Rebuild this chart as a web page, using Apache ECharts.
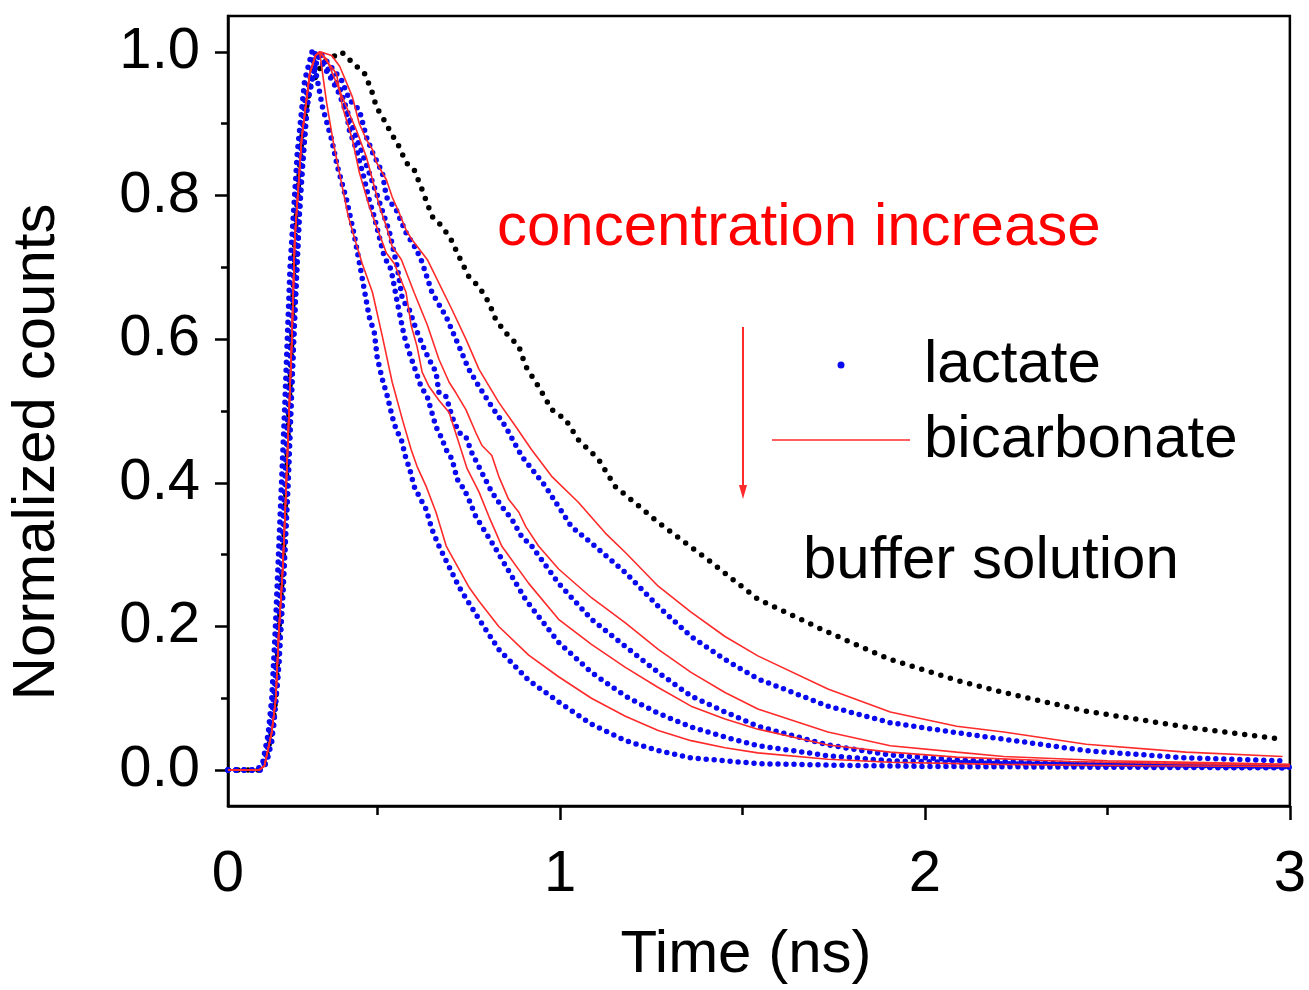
<!DOCTYPE html>
<html><head><meta charset="utf-8">
<script src="https://cdn.jsdelivr.net/npm/echarts@6/dist/echarts.min.js"></script>
<style>html,body{margin:0;padding:0;background:#fff}#c{width:1309px;height:990px}</style>
</head><body><div id="c"></div>
<script>
// ---- axis ticks / labels ----
const xMin = 0.09, xMax = 3.0;
const yMin = -0.05, yMax = 1.05;
const xLabelValues = [0.09, 1, 2, 3];
const xLabelTexts = ['0', '1', '2', '3'];
const xTicksMajor = [1, 2, 3];
const xTicksMinor = [0.5, 1.5, 2.5];
const yLabelValues = [0, 0.2, 0.4, 0.6, 0.8, 1.0];
const yTicksMinor = [0.1, 0.3, 0.5, 0.7, 0.9];

// ---- data: [time (ns), normalized counts] ----
const buffer = [[0.09,0],[0.175,0],[0.19,0.006],[0.21,0.053],[0.221,0.1],[0.229,0.19],[0.24,0.28],[0.248,0.377],[0.265,0.6],[0.273,0.74],[0.292,0.88],[0.314,0.95],[0.35,0.985],[0.401,1.0],[0.442,0.98],[0.464,0.97],[0.483,0.947],[0.497,0.923],[0.518,0.905],[0.537,0.887],[0.559,0.868],[0.578,0.846],[0.6,0.836],[0.622,0.808],[0.649,0.771],[0.677,0.757],[0.701,0.739],[0.723,0.715],[0.75,0.687],[0.778,0.673],[0.805,0.651],[0.824,0.627],[0.851,0.609],[0.887,0.59],[0.906,0.562],[0.941,0.534],[0.977,0.502],[1.015,0.488],[1.05,0.46],[1.105,0.433],[1.151,0.395],[1.269,0.345],[1.405,0.293],[1.542,0.238],[1.734,0.192],[1.905,0.154],[2.087,0.125],[2.216,0.108],[2.442,0.082],[2.715,0.06],[2.98,0.043]];

const lactate1 = [[0.09,0],[0.17,0],[0.185,0.01],[0.2,0.05],[0.21,0.1],[0.22,0.2],[0.23,0.32],[0.245,0.5],[0.26,0.7],[0.28,0.86],[0.3,0.96],[0.32,1.0],[0.349,0.923],[0.374,0.878],[0.39,0.84],[0.415,0.794],[0.436,0.745],[0.456,0.69],[0.477,0.631],[0.491,0.609],[0.499,0.574],[0.513,0.544],[0.527,0.52],[0.54,0.492],[0.551,0.474],[0.565,0.46],[0.578,0.433],[0.587,0.421],[0.6,0.395],[0.614,0.381],[0.633,0.363],[0.649,0.335],[0.668,0.312],[0.723,0.255],[0.778,0.21],[0.832,0.168],[0.914,0.125],[0.996,0.095],[1.086,0.064],[1.179,0.041],[1.269,0.027],[1.359,0.017],[1.542,0.009],[1.734,0.007],[2.0,0.005],[2.5,0.004],[3.0,0.003]];
const lactate2 = [[0.09,0],[0.175,0],[0.19,0.01],[0.205,0.05],[0.22,0.13],[0.235,0.27],[0.25,0.45],[0.265,0.63],[0.28,0.8],[0.3,0.93],[0.33,1.0],[0.39,0.947],[0.415,0.915],[0.423,0.89],[0.442,0.864],[0.464,0.822],[0.477,0.794],[0.491,0.77],[0.518,0.715],[0.537,0.697],[0.554,0.651],[0.573,0.604],[0.587,0.581],[0.6,0.562],[0.619,0.534],[0.636,0.52],[0.66,0.478],[0.674,0.464],[0.688,0.446],[0.704,0.433],[0.718,0.405],[0.737,0.391],[0.75,0.377],[0.769,0.353],[0.786,0.339],[0.819,0.312],[0.906,0.237],[0.996,0.178],[1.086,0.136],[1.179,0.103],[1.269,0.079],[1.359,0.06],[1.452,0.046],[1.542,0.034],[1.734,0.02],[1.905,0.013],[2.2,0.009],[2.6,0.006],[3.0,0.004]];
const lactate3 = [[0.09,0],[0.18,0],[0.195,0.01],[0.21,0.04],[0.225,0.12],[0.24,0.24],[0.255,0.4],[0.27,0.6],[0.285,0.77],[0.305,0.92],[0.335,1.0],[0.396,0.95],[0.428,0.9],[0.464,0.85],[0.499,0.8],[0.532,0.75],[0.554,0.70],[0.568,0.655],[0.587,0.641],[0.606,0.613],[0.628,0.586],[0.641,0.572],[0.66,0.554],[0.668,0.526],[0.688,0.52],[0.704,0.492],[0.723,0.47],[0.742,0.464],[0.758,0.442],[0.786,0.414],[0.813,0.387],[0.84,0.367],[0.868,0.349],[0.895,0.325],[0.922,0.312],[0.996,0.26],[1.086,0.21],[1.179,0.172],[1.269,0.136],[1.359,0.103],[1.452,0.081],[1.542,0.061],[1.734,0.035],[1.905,0.021],[2.087,0.014],[2.4,0.009],[2.7,0.007],[3.0,0.005]];
const lactate4 = [[0.09,0],[0.18,0],[0.2,0.02],[0.215,0.06],[0.23,0.15],[0.245,0.3],[0.26,0.48],[0.275,0.66],[0.29,0.82],[0.31,0.94],[0.34,1.0],[0.401,0.961],[0.423,0.933],[0.45,0.919],[0.469,0.882],[0.486,0.86],[0.513,0.832],[0.524,0.798],[0.551,0.78],[0.578,0.748],[0.606,0.725],[0.622,0.707],[0.649,0.665],[0.688,0.631],[0.723,0.59],[0.75,0.558],[0.778,0.534],[0.813,0.506],[0.851,0.478],[0.895,0.437],[0.96,0.395],[1.031,0.339],[1.086,0.316],[1.179,0.275],[1.269,0.228],[1.359,0.186],[1.452,0.154],[1.542,0.127],[1.734,0.089],[1.905,0.066],[2.087,0.052],[2.216,0.043],[2.442,0.027],[2.715,0.017],[2.98,0.013]];

const bicarbonate1 = [[0.09,0],[0.175,0],[0.19,0.006],[0.21,0.053],[0.221,0.1],[0.229,0.19],[0.24,0.28],[0.248,0.377],[0.265,0.6],[0.273,0.74],[0.292,0.88],[0.314,0.97],[0.33,0.995],[0.341,1.0],[0.36,0.93],[0.38,0.87],[0.40,0.82],[0.42,0.77],[0.44,0.735],[0.458,0.705],[0.486,0.665],[0.513,0.604],[0.54,0.54],[0.568,0.488],[0.592,0.446],[0.608,0.423],[0.633,0.395],[0.66,0.359],[0.688,0.312],[0.75,0.255],[0.778,0.235],[0.832,0.2],[0.914,0.16],[0.996,0.13],[1.086,0.1],[1.179,0.075],[1.269,0.055],[1.359,0.041],[1.452,0.031],[1.542,0.024],[1.734,0.015],[1.905,0.011],[2.2,0.008],[2.6,0.006],[3.0,0.005]];
const bicarbonate2 = [[0.09,0],[0.175,0],[0.19,0.006],[0.21,0.053],[0.221,0.1],[0.229,0.19],[0.24,0.28],[0.248,0.377],[0.265,0.6],[0.273,0.74],[0.292,0.88],[0.314,0.97],[0.33,0.995],[0.341,1.0],[0.387,0.97],[0.404,0.923],[0.431,0.878],[0.45,0.832],[0.477,0.785],[0.497,0.757],[0.524,0.72],[0.546,0.705],[0.578,0.665],[0.592,0.619],[0.608,0.59],[0.622,0.554],[0.641,0.534],[0.668,0.515],[0.696,0.498],[0.723,0.455],[0.745,0.42],[0.778,0.387],[0.805,0.353],[0.824,0.331],[0.84,0.312],[0.914,0.26],[0.996,0.21],[1.086,0.175],[1.179,0.143],[1.269,0.115],[1.359,0.089],[1.452,0.071],[1.542,0.057],[1.734,0.035],[1.905,0.025],[2.087,0.018],[2.4,0.012],[2.7,0.009],[3.0,0.007]];
const bicarbonate3 = [[0.09,0],[0.175,0],[0.19,0.006],[0.21,0.053],[0.221,0.1],[0.229,0.19],[0.24,0.28],[0.248,0.377],[0.265,0.6],[0.273,0.74],[0.292,0.88],[0.314,0.97],[0.33,0.995],[0.341,1.0],[0.36,0.99],[0.387,0.957],[0.415,0.923],[0.442,0.891],[0.469,0.854],[0.486,0.822],[0.505,0.785],[0.524,0.757],[0.54,0.729],[0.565,0.711],[0.6,0.665],[0.636,0.62],[0.668,0.572],[0.696,0.54],[0.715,0.525],[0.742,0.502],[0.769,0.47],[0.786,0.452],[0.813,0.438],[0.832,0.409],[0.859,0.377],[0.887,0.359],[0.906,0.339],[0.941,0.312],[0.996,0.28],[1.086,0.24],[1.179,0.205],[1.269,0.168],[1.359,0.136],[1.452,0.108],[1.542,0.085],[1.734,0.053],[1.905,0.034],[2.087,0.025],[2.216,0.019],[2.5,0.013],[2.8,0.01],[3.0,0.008]];
const bicarbonate4 = [[0.09,0],[0.175,0],[0.19,0.006],[0.21,0.053],[0.221,0.1],[0.229,0.19],[0.24,0.28],[0.248,0.377],[0.265,0.6],[0.273,0.74],[0.292,0.88],[0.314,0.97],[0.33,0.995],[0.345,1.0],[0.374,0.995],[0.396,0.98],[0.415,0.957],[0.431,0.937],[0.45,0.9],[0.469,0.878],[0.486,0.864],[0.497,0.846],[0.524,0.822],[0.54,0.798],[0.559,0.776],[0.578,0.752],[0.595,0.738],[0.636,0.711],[0.704,0.641],[0.742,0.6],[0.778,0.558],[0.832,0.512],[0.879,0.478],[0.922,0.446],[0.977,0.409],[1.05,0.373],[1.124,0.33],[1.179,0.303],[1.269,0.256],[1.359,0.22],[1.452,0.186],[1.542,0.159],[1.734,0.113],[1.905,0.081],[2.087,0.061],[2.216,0.053],[2.442,0.036],[2.715,0.025],[2.98,0.019]];

const lactateSets = [lactate1, lactate2, lactate3, lactate4];
const bicarbonateSets = [bicarbonate1, bicarbonate2, bicarbonate3, bicarbonate4];

const FONT = "'Liberation Sans', Arial, Helvetica, sans-serif";
const BLUE = '#0a0af0';
const RED = '#ff2a2a';

const chart = echarts.init(document.getElementById('c'), null, {renderer: 'canvas'});

function near(v, arr) {
  for (let i = 0; i < arr.length; i++) if (Math.abs(arr[i] - v) < 1e-6) return i;
  return -1;
}

const series = [];
series.push({
  name: 'buffer solution', type: 'line', data: buffer, symbol: 'none', silent: true,
  lineStyle: {color: '#000', width: 5.5, type: [0, 10], cap: 'round', join: 'round'},
  itemStyle: {color: '#000', borderWidth: 0}, z: 2
});
lactateSets.forEach(d => series.push({
  name: 'lactate', type: 'line', data: d, symbol: 'none', silent: true,
  lineStyle: {color: BLUE, width: 5.5, type: [0, 8], cap: 'round', join: 'round'},
  itemStyle: {color: BLUE, borderWidth: 0}, z: 3
}));
bicarbonateSets.forEach(d => series.push({
  name: 'bicarbonate', type: 'line', data: d, symbol: 'none', silent: true,
  lineStyle: {color: RED, width: 1.6}, itemStyle: {color: RED, borderWidth: 0}, z: 4
}));

const option = {
  backgroundColor: '#fff',
  animation: false,
  textStyle: {fontFamily: FONT},
  grid: {left: 228, top: 16, width: 1066, height: 790, show: true, borderColor: '#000', borderWidth: 2.5, backgroundColor: 'transparent'},
  legend: {
    orient: 'vertical', left: 772, top: 335, padding: 0,
    itemWidth: 138, itemHeight: 7, itemGap: 15, selectedMode: false,
    textStyle: {fontSize: 60, fontFamily: FONT, color: '#000', padding: [0, 0, 0, 9]},
    data: [
      {name: 'lactate', icon: 'circle'},
      {name: 'bicarbonate', icon: 'path://M0,0 L138,0 L138,1.6 L0,1.6 Z'}
    ]
  },
  xAxis: [{
    type: 'value', min: xMin, max: xMax, gridIndex: 0,
    name: 'Time (ns)', nameLocation: 'middle', nameGap: 119,
    nameTextStyle: {fontSize: 60, fontFamily: FONT, color: '#000', padding: [0, 26, 0, 0]},
    axisLine: {show: true, onZero: false, lineStyle: {color: '#000', width: 2.5}},
    axisTick: {show: true, inside: false, length: 14, customValues: xTicksMajor, lineStyle: {color: '#000', width: 2.5}},
    axisLabel: {show: true, margin: 40, fontSize: 58, fontFamily: FONT, color: '#000', customValues: xLabelValues,
      formatter: v => { const i = near(v, xLabelValues); return i >= 0 ? xLabelTexts[i] : ''; }},
    splitLine: {show: false}
  }, {
    type: 'value', min: xMin, max: xMax, gridIndex: 0, position: 'bottom',
    axisLine: {show: false, onZero: false},
    axisTick: {show: true, inside: false, length: 9, customValues: xTicksMinor, lineStyle: {color: '#000', width: 2.5}},
    axisLabel: {show: false}, splitLine: {show: false}
  }],
  yAxis: [{
    type: 'value', min: yMin, max: yMax, gridIndex: 0,
    axisLine: {show: true, onZero: false, lineStyle: {color: '#000', width: 2.5}},
    axisTick: {show: true, inside: false, length: 13, customValues: yLabelValues, lineStyle: {color: '#000', width: 2.5}},
    axisLabel: {show: true, margin: 28, fontSize: 58, fontFamily: FONT, color: '#000', customValues: yLabelValues,
      formatter: v => v.toFixed(1)},
    splitLine: {show: false}
  }, {
    type: 'value', min: yMin, max: yMax, gridIndex: 0, position: 'left',
    axisLine: {show: false, onZero: false},
    axisTick: {show: true, inside: false, length: 7, customValues: yTicksMinor, lineStyle: {color: '#000', width: 2.5}},
    axisLabel: {show: false}, splitLine: {show: false}
  }],
  series: series,
  graphic: [
    {type: 'text', x: 37, y: 452, rotation: Math.PI / 2, silent: true,
      style: {text: 'Normalized counts', fontSize: 60, fontFamily: FONT, fill: '#000', align: 'center', verticalAlign: 'middle'}},
    {type: 'text', x: 497, y: 228, silent: true,
      style: {text: 'concentration increase', fontSize: 60, fontFamily: FONT, fill: '#ff0000', align: 'left', verticalAlign: 'middle'}},
    {type: 'text', x: 803, y: 561, silent: true,
      style: {text: 'buffer solution', fontSize: 60, fontFamily: FONT, fill: '#000', align: 'left', verticalAlign: 'middle'}},
    {type: 'line', silent: true, shape: {x1: 743, y1: 327, x2: 743, y2: 488},
      style: {stroke: RED, lineWidth: 2}},
    {type: 'polygon', silent: true, shape: {points: [[739, 485], [747, 485], [743, 499]]},
      style: {fill: RED}}
  ]
};
chart.setOption(option);
</script>
</body></html>
